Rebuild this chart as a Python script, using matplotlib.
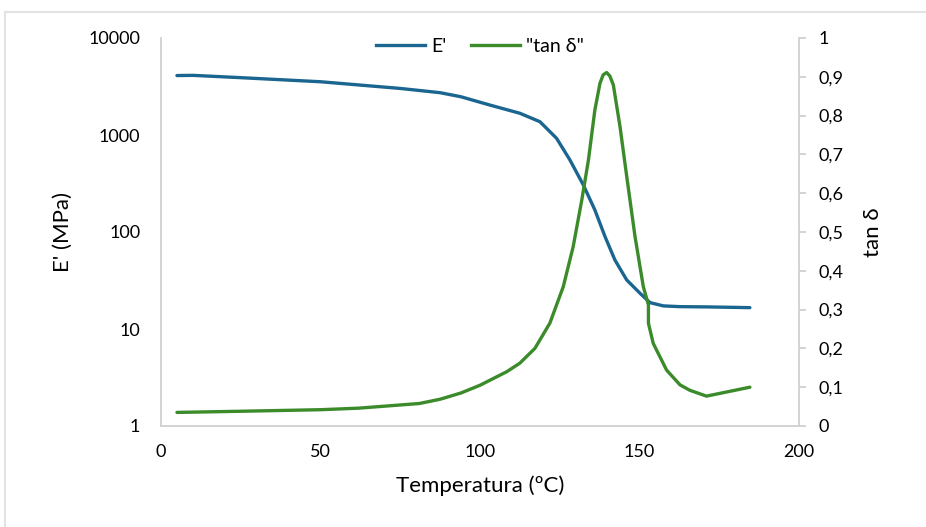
import numpy as np
import matplotlib.pyplot as plt
from matplotlib.lines import Line2D
from matplotlib.ticker import FixedLocator, FuncFormatter

plt.rcParams['font.family'] = ['Lato', 'DejaVu Sans']

# Datos
temp_e = [5, 10, 25, 50, 75, 87.5, 94, 103, 112.5, 118.8, 124, 128.2, 132.4,
          136, 139.2, 142.3, 146, 150.2, 153.3, 157.5, 162.7, 171, 184.6]
e_mod = [4100, 4120, 3900, 3540, 3020, 2730, 2480, 2040, 1675, 1370, 925, 552,
         305, 169, 89.5, 51.4, 32, 23.3, 18.7, 17.3, 17.0, 16.9, 16.6]

temp_tan = [5, 25, 50, 62, 81, 87.5, 94, 100, 108.4, 112.5, 117.2, 121.9,
            126.1, 129.2, 131.9, 134, 136, 137.6, 138.6, 139.7, 140.7, 141.8,
            143.9, 146, 148.6, 151.2, 152.8, 152.8, 154.3, 158.5, 162.7, 165.8,
            171, 184.6]
tan_d = [0.035, 0.038, 0.042, 0.046, 0.058, 0.069, 0.085, 0.105, 0.14, 0.162,
         0.200, 0.265, 0.359, 0.462, 0.582, 0.686, 0.814, 0.883, 0.905, 0.911,
         0.902, 0.879, 0.771, 0.643, 0.488, 0.359, 0.312, 0.265, 0.213, 0.144,
         0.106, 0.092, 0.077, 0.10]

x_ticks = [0, 50, 100, 150, 200]
y_left_ticks = [1, 10, 100, 1000, 10000]
y_right_ticks = np.round(np.arange(0, 1.01, 0.1), 1)

azul = '#1b6690'
verde = '#3b8b2b'
gris = '#d0d0d0'

fig = plt.figure(figsize=(9.26, 5.27), dpi=100)
ax1 = fig.add_axes([161 / 926, 1 - 426 / 527, (799 - 161) / 926, (426 - 38) / 527])
ax2 = ax1.twinx()

ax1.plot(temp_e, e_mod, color=azul, lw=2.4, solid_capstyle='round', solid_joinstyle='round')
ax2.plot(temp_tan, tan_d, color=verde, lw=2.4, solid_capstyle='round', solid_joinstyle='round')

ax1.set_yscale('log')
ax1.set_ylim(1, 10000)
ax1.set_xlim(0, 200)
ax2.set_ylim(0, 1)

ax1.xaxis.set_major_locator(FixedLocator(x_ticks))
ax1.yaxis.set_major_locator(FixedLocator(y_left_ticks))
ax1.yaxis.set_minor_locator(FixedLocator([]))
ax1.yaxis.set_major_formatter(FuncFormatter(lambda v, p: '%d' % v))
ax2.yaxis.set_major_locator(FixedLocator(y_right_ticks))
ax2.yaxis.set_major_formatter(FuncFormatter(lambda v, p: ('%g' % v).replace('.', ',')))

for ax in (ax1, ax2):
    ax.spines['top'].set_visible(False)
    for s in ('left', 'right', 'bottom'):
        ax.spines[s].set_color(gris)
        ax.spines[s].set_linewidth(1.3)
ax1.spines['right'].set_visible(False)
ax2.spines['left'].set_visible(False)
ax2.spines['bottom'].set_visible(False)

ax1.tick_params(axis='y', length=0, pad=15, labelsize=13, colors='black')
ax1.tick_params(axis='x', length=0, pad=13, labelsize=13, colors='black')
ax2.tick_params(axis='y', length=5, width=1.3, color=gris, direction='out',
                pad=9, labelsize=13, labelcolor='black')

ax1.set_xlabel('Temperatura (ºC)', fontsize=16, labelpad=11)
ax1.set_ylabel("E' (MPa)", fontsize=16, labelpad=11)
ax2.set_ylabel('tan δ', fontsize=16, labelpad=14)

handles = [Line2D([], [], color=azul, lw=2.4), Line2D([], [], color=verde, lw=2.4)]
ax1.legend(handles, ["E'", '"tan δ"'], loc='upper center', bbox_to_anchor=(0.50, 1.045),
           ncol=2, frameon=False, fontsize=14, handlelength=2.5,
           handletextpad=0.3, columnspacing=1.3)

# marco exterior del grafico
fig.add_artist(Line2D([5 / 926, 5 / 926], [0, 1 - 12 / 527], color='#e3e3e3', lw=1.5))
fig.add_artist(Line2D([5 / 926, 1], [1 - 12 / 527, 1 - 12 / 527], color='#e3e3e3', lw=1.5))

fig.savefig('out.png', dpi=100)
